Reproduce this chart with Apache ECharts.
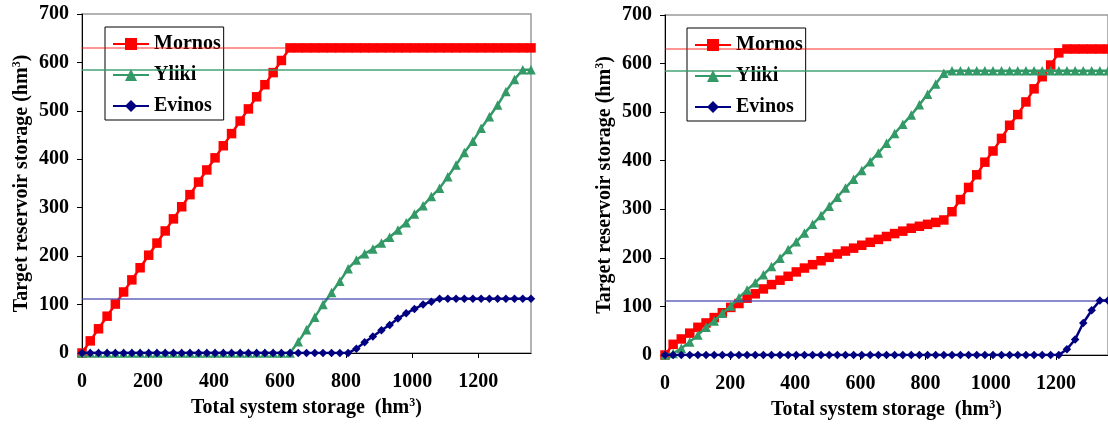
<!DOCTYPE html>
<html>
<head>
<meta charset="utf-8">
<script src="https://cdn.jsdelivr.net/npm/echarts@6/dist/echarts.min.js"></script>
<style>
html,body{margin:0;padding:0;background:#fff;}
#chart{width:1108px;height:425px;}
</style>
</head>
<body>
<div id="chart"></div>
<script>
// Total system storage (hm3) at each step
const storage = [0,25,50,76,101,126,151,176,202,227,252,277,302,327,353,378,403,428,453,479,504,529,554,579,604,630,655,680,705,730,756,781,806,831,856,881,907,932,957,982,1007,1033,1058,1083,1108,1133,1158,1184,1209,1234,1259,1284,1310,1335,1360];

// Left panel
const leftMornos = [0,25,50,76,101,126,151,176,202,227,252,277,302,327,353,378,403,428,453,479,504,529,554,579,604,630,630,630,630,630,630,630,630,630,630,630,630,630,630,630,630,630,630,630,630,630,630,630,630,630,630,630,630,630,630];
const leftYliki = [0,0,0,0,0,0,0,0,0,0,0,0,0,0,0,0,0,0,0,0,0,0,0,0,0,0,23,48,74,100,125,148,174,192,205,215,227,239,254,269,287,304,323,340,364,388,414,437,464,488,512,540,565,585,585];
const leftEvinos = [0,0,0,0,0,0,0,0,0,0,0,0,0,0,0,0,0,0,0,0,0,0,0,0,0,0,0,0,0,0,0,0,0,9,22,34,47,58,71,82,91,100,106,112,112,112,112,112,112,112,112,112,112,112,112];

// Right panel
const rightMornos = [0,22,33,45,57,66,77,87,98,106,117,126,136,145,154,162,171,179,186,194,201,208,214,220,226,232,238,244,250,255,261,265,269,273,278,295,320,345,371,397,420,446,473,495,521,548,573,597,622,630,630,630,630,630,630];
const rightYliki = [0,3,14,27,41,57,70,86,101,118,134,149,165,182,199,217,233,251,269,287,306,325,344,362,380,398,416,436,456,475,494,515,537,558,580,585,585,585,585,585,585,585,585,585,585,585,585,585,585,585,585,585,585,585,585];
const rightEvinos = [0,0,0,0,0,0,0,0,0,0,0,0,0,0,0,0,0,0,0,0,0,0,0,0,0,0,0,0,0,0,0,0,0,0,0,0,0,0,0,0,0,0,0,0,0,0,0,0,0,12,32,66,92,112,112];

// Reservoir capacities (hm3): Mornos, Yliki, Evinos
const reservoirNames = ['Mornos','Yliki','Evinos'];
const capacities = [630, 585, 112];

const FONT = 'Liberation Serif, Times New Roman, serif';
const colors = ['#FF0000','#339966','#000080'];
const capColors = ['rgba(255,0,0,0.55)','rgba(51,153,102,0.9)','rgba(64,64,170,0.8)'];
const symbols = ['rect','triangle','diamond'];
const symbolSizes = [9.5,9.5,8.5];

const rich = {
  t:{fontFamily:FONT,fontWeight:'bold',fontSize:20,color:'#000',lineHeight:22},
  s:{fontFamily:FONT,fontWeight:'bold',fontSize:12,color:'#000',verticalAlign:'top',lineHeight:22,padding:[0,0,9,0]}
};

function pairs(vals){ return storage.map((x,i)=>[x, vals[i]]); }

const grids = [
  {left:82, top:14, width:449, height:339},
  {left:665, top:15, width:452, height:340}
];

const panels = [[leftMornos,leftYliki,leftEvinos],[rightMornos,rightYliki,rightEvinos]];

const option = {
  animation:false,
  backgroundColor:'#fff',
  grid: grids.map(g=>Object.assign({show:true, borderColor:'#9a9a9a', borderWidth:1.5, backgroundColor:'transparent'}, g)),
  legend: [0,1].map(k=>({
    data: reservoirNames,
    left: k===0 ? 105 : 687,
    top: k===0 ? 27 : 28,
    orient:'vertical',
    backgroundColor:'#fff',
    borderColor:'#000',
    borderWidth:1,
    borderRadius:0,
    padding:[7,3,4,7],
    itemWidth:36,
    itemHeight:15,
    itemGap:11,
    textStyle:{fontFamily:FONT,fontWeight:'bold',fontSize:20,color:'#000',lineHeight:20},
    selectedMode:false
  })),
  xAxis: [0,1].map(k=>({
    type:'value', gridIndex:k, min:0, max:1360, interval:200,
    name:'{t|Total system storage  (hm}{s|3}{t|)}',
    nameLocation:'middle', nameGap:44,
    nameTextStyle:{rich:rich},
    axisLine:{show:true,onZero:false,lineStyle:{color:'#000',width:1}},
    axisTick:{show:true,length:5,lineStyle:{color:'#000'}},
    axisLabel:{margin:19,showMaxLabel:false,formatter:v=>String(v),fontFamily:FONT,fontWeight:'bold',fontSize:20,color:'#000'},
    splitLine:{show:false}
  })),
  yAxis: [0,1].map(k=>({
    type:'value', gridIndex:k, min:0, max:700, interval:100,
    name:'{t|Target reservoir storage (hm}{s|3}{t|)}',
    nameLocation:'middle', nameGap:49, nameRotate:90,
    nameTextStyle:{rich:rich},
    axisLine:{show:true,lineStyle:{color:'#000',width:1}},
    axisTick:{show:true,length:5,lineStyle:{color:'#000'}},
    axisLabel:{margin:13,formatter:v=>String(v),fontFamily:FONT,fontWeight:'bold',fontSize:20,color:'#000'},
    splitLine:{show:false}
  })),
  series: []
};

panels.forEach((vals,k)=>{
  vals.forEach((v,j)=>{
    option.series.push({
      name: reservoirNames[j],
      type:'line',
      xAxisIndex:k, yAxisIndex:k,
      data: pairs(v),
      symbol: symbols[j],
      symbolSize: symbolSizes[j],
      showAllSymbol:true,
      z: 3 + j,
      itemStyle:{color:colors[j]},
      lineStyle:{color:colors[j], width:2.5},
      markLine:{
        silent:true, symbol:'none', animation:false,
        label:{show:false},
        lineStyle:{type:'solid', width:1.5, color:capColors[j]},
        data:[{yAxis:capacities[j]}]
      }
    });
  });
});

const chart = echarts.init(document.getElementById('chart'), null, {renderer:'canvas'});
chart.setOption(option);
</script>
</body>
</html>
